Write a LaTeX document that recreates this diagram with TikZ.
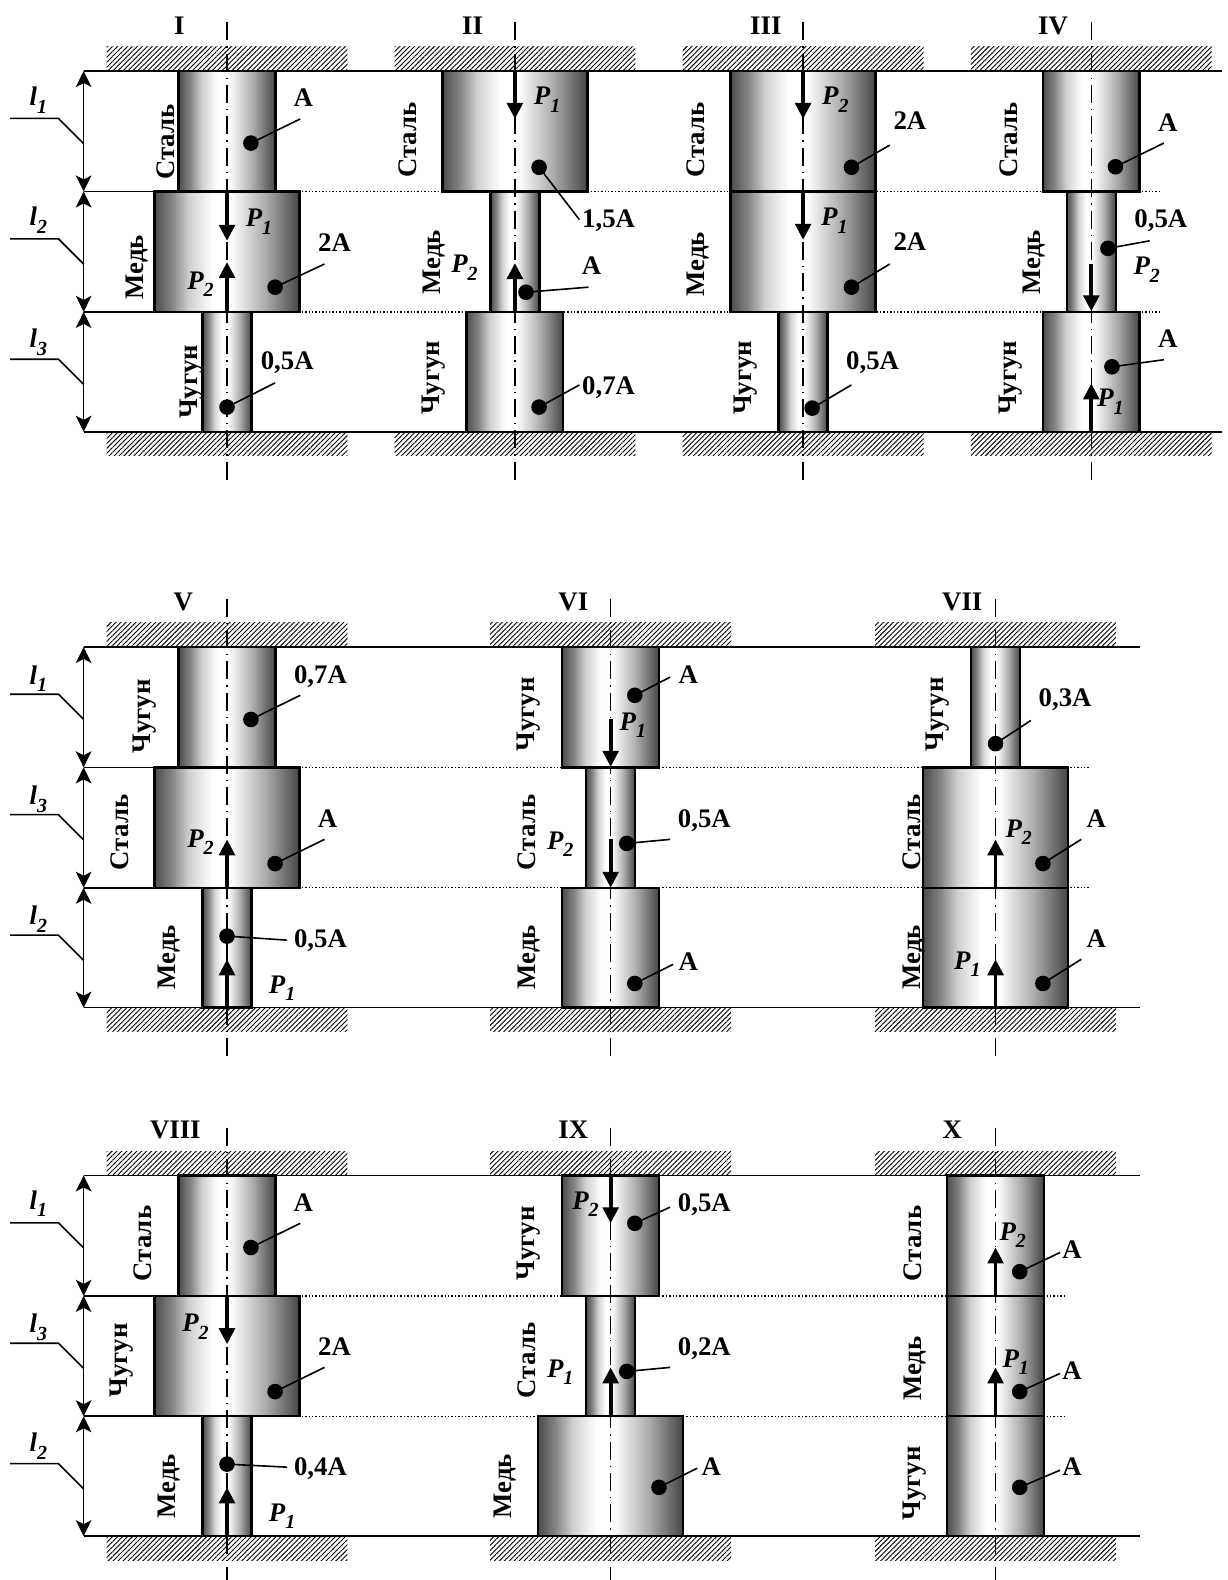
\documentclass[tikz,border=0pt]{standalone}
\usepackage{fontspec}
\setmainfont{Liberation Serif}
\usetikzlibrary{arrows.meta,patterns.meta}
\definecolor{edgeL}{gray}{0.30}
\definecolor{edgeR}{gray}{0.27}
\definecolor{stopA}{gray}{0.52}
\definecolor{stopB}{gray}{0.82}
\definecolor{stopC}{gray}{0.68}
\pgfdeclarehorizontalshading{rodshade}{100bp}{color(0bp)=(edgeL); color(25bp)=(edgeL); color(31bp)=(stopA); color(37bp)=(stopB); color(45bp)=(white); color(51bp)=(white); color(63bp)=(stopC); color(75bp)=(edgeR); color(100bp)=(edgeR)}
\newcounter{lbl}
\newcommand{\PF}[1]{\raisebox{1pt}{\bfseries\itshape P\raisebox{-0.28em}{\fontsize{10}{10}\selectfont #1}}}
\newcommand{\LL}[1]{\raisebox{1pt}{\bfseries\itshape l\raisebox{-0.28em}{\fontsize{10}{10}\selectfont #1}}}
% text label
\newcommand{\lab}[3]{\stepcounter{lbl}\node[txt] (t\thelbl) at (#1,#2) {#3};}
\newcommand{\mat}[3]{\stepcounter{lbl}\node[txt,rotate=90,yshift=-0.4pt] (t\thelbl) at (#1,#2) {#3};}
% rod: axis x, top y, half widths
\newcommand{\rod}[5]{%
 \shadedraw[rodbox] ({#1-#3},#2) rectangle ({#1+#3},{#2+119.5});
 \shadedraw[rodbox] ({#1-#4},{#2+119.5}) rectangle ({#1+#4},{#2+239});
 \shadedraw[rodbox] ({#1-#5},{#2+239}) rectangle ({#1+#5},{#2+358});
}
\newcommand{\hatchpair}[2]{%
 \path[hatchbox] ({#1-119.5},{#2-24}) rectangle ({#1+119.5},#2);
 \path[hatchbox] ({#1-119.5},{#2+358}) rectangle ({#1+119.5},{#2+382});
}
\newcommand{\axisline}[3]{\draw[axisst] (#1,#2) -- (#1,#3);}
\newcommand{\force}[3]{\draw[forcest] (#1,#2) -- (#1,#3);}
% dot with leader
\newcommand{\lead}[4]{\stepcounter{lbl}%
 \node[dotst] (d\thelbl) at (#1,#2) {};
 \coordinate (e\thelbl) at (#3,#4);
 \draw[leadst] (d\thelbl.center) -- (e\thelbl);}
% row frame
\newcommand{\frameRow}[3]{%
 \draw[dotst2] (225.3,{#1+119.5}) -- (#3,{#1+119.5});
 \draw[dotst2] (225.3,{#1+239}) -- (#3,{#1+239});
 \draw[thinst] (83,{#1+119.5}) -- (225.3,{#1+119.5});
 \draw[thinst] (83,{#1+239}) -- (225.3,{#1+239});
 \draw[thinst] (83,#1) -- (#2,#1);
 \draw[thinst] (83,{#1+358}) -- (#2,{#1+358});
 \draw[dimst] (83,#1) -- (83,{#1+119.5});
 \draw[dimst] (83,{#1+119.5}) -- (83,{#1+239});
 \draw[dimst] (83,{#1+239}) -- (83,{#1+358});
 \draw[thinst] (10,{#1+47}) -- (58,{#1+47}) -- (83,{#1+72});
 \draw[thinst] (10,{#1+166.5}) -- (58,{#1+166.5}) -- (83,{#1+191.5});
 \draw[thinst] (10,{#1+286}) -- (58,{#1+286}) -- (83,{#1+311});
}
\tikzset{
 txt/.style={inner sep=0pt,text height=8.9pt,text depth=0pt,font=\fontsize{13.4}{15}\selectfont\bfseries},
 rodbox/.style={shading=rodshade,draw=black,line width=1.2pt},
 hatchbox/.style={pattern={Lines[angle=45,distance=1.75pt,line width=0.45pt]},pattern color=black},
 axisst/.style={line width=0.7pt,dash pattern=on 9pt off 3pt on 0.7pt off 3pt},
 forcest/.style={line width=1.9pt,-{Stealth[length=8pt,width=7.8pt,inset=0pt]}},
 dotst/.style={circle,fill=black,inner sep=0pt,minimum size=7.8pt},
 leadst/.style={line width=0.8pt},
 dotst2/.style={line width=0.65pt,dash pattern=on 0.7pt off 1pt},
 thinst/.style={line width=0.8pt},
 dimst/.style={line width=0.8pt,{Stealth[length=8pt,width=7.8pt,inset=2pt]}-{Stealth[length=8pt,width=7.8pt,inset=2pt]}},
}
\begin{document}
\begin{tikzpicture}[x=0.5037pt,y=-0.5037pt]
\useasboundingbox (0,0) rectangle (1218,1568);
\fill[white] (0,0) rectangle (1218,1568);
% ===== frames
\frameRow{70.5}{1213}{1153}
\frameRow{642}{1131}{1081}
\frameRow{1166.5}{1131}{1057}
% ===== hatches
\hatchpair{225.3}{70.5}\hatchpair{511}{70.5}\hatchpair{797}{70.5}\hatchpair{1083}{70.5}
\hatchpair{225.3}{642}\hatchpair{606}{642}\hatchpair{988}{642}
\hatchpair{225.3}{1166.5}\hatchpair{606}{1166.5}\hatchpair{988}{1166.5}
% ===== rods
\rod{225.3}{70.5}{48}{72}{24.3}
\rod{511}{70.5}{72}{24.3}{48}
\rod{797}{70.5}{72}{72}{24.3}
\rod{1083}{70.5}{48}{24.3}{48}
\rod{225.3}{642}{48}{72}{24.3}
\rod{606}{642}{48}{24.3}{48}
\rod{988}{642}{24.3}{72}{72}
\rod{225.3}{1166.5}{48}{72}{24.3}
\rod{606}{1166.5}{48}{24.3}{72}
\rod{988}{1166.5}{48}{48}{48}
% ===== axes
\axisline{225.3}{22}{478}\axisline{511}{22}{478}\axisline{797}{22}{478}\axisline{1083}{22}{478}
\axisline{225.3}{594}{1050}\axisline{606}{594}{1050}\axisline{988}{594}{1050}
\axisline{225.3}{1119}{1568}\axisline{606}{1119}{1568}\axisline{988}{1119}{1568}
% ===== left l labels
\lab{38}{98}{\LL{1}}\lab{38}{217}{\LL{2}}\lab{38}{338}{\LL{3}}
\lab{38}{672}{\LL{1}}\lab{38}{792}{\LL{3}}\lab{38}{911}{\LL{2}}
\lab{38}{1193}{\LL{1}}\lab{38}{1316}{\LL{3}}\lab{38}{1434}{\LL{2}}
% ===== I
\lab{178}{25}{I}
\mat{164}{141}{Сталь}\mat{133}{265}{Медь}\mat{186}{379}{Чугун}
\lead{249}{142}{298}{118}\lab{301}{97}{A}
\lead{273}{285}{322}{262}\lab{332}{241}{2A}
\lead{225.3}{404}{273}{380}\lab{285}{358}{0,5A}
\force{225.3}{190}{239}\lab{257}{218}{\PF{1}}
\force{225.3}{309}{260}\lab{199}{280}{\PF{2}}
% ===== II
\lab{469}{25}{II}
\mat{404}{139}{Сталь}\mat{428}{260}{Медь}\mat{427}{375}{Чугун}
\force{511}{71}{118}\lab{543}{97}{\PF{1}}
\lead{535}{166}{575}{218}\lab{604}{217}{1,5A}
\force{511}{309}{261}\lab{461}{264}{\PF{2}}
\lead{522}{290}{584}{285}\lab{587}{264}{A}
\lead{535}{404}{575}{382}\lab{604}{383}{0,7A}
% ===== III
\lab{760}{25}{III}
\mat{690}{139}{Сталь}\mat{690}{262}{Медь}\mat{736}{375}{Чугун}
\force{797}{71}{118}\lab{829}{97}{\PF{2}}
\lead{845}{166}{883}{144}\lab{903}{120}{2A}
\force{797}{190}{238}\lab{828}{217}{\PF{1}}
\lead{845}{285}{883}{262}\lab{903}{240}{2A}
\lead{806}{405}{845}{382}\lab{866}{358}{0,5A}
% ===== IV
\lab{1045}{25}{IV}
\mat{1000}{139}{Сталь}\mat{1023}{260}{Медь}\mat{999}{375}{Чугун}
\lead{1107}{165.5}{1155}{142}\lab{1159}{122}{A}
\lead{1099.5}{246.5}{1141}{239}\lab{1152}{217}{0,5A}
\force{1083}{261.5}{309}\lab{1138}{266}{\PF{2}}
\lead{1103.5}{364}{1155}{357}\lab{1159}{336}{A}
\force{1083}{428}{380.5}\lab{1102}{397}{\PF{1}}
% ===== V
\lab{182}{597}{V}
\mat{140}{711}{Чугун}\mat{118}{826}{Сталь}\mat{165}{950}{Медь}
\lead{249}{714}{298}{690}\lab{318}{669}{0,7A}
\lead{273}{857}{322}{833}\lab{325}{812}{A}
\lead{225.3}{929}{285}{933}\lab{318}{931}{0,5A}
\force{225.3}{881}{833}\lab{199}{834}{\PF{2}}
\force{225.3}{1000}{952}\lab{280}{979}{\PF{1}}
% ===== VI
\lab{569}{597}{VI}
\mat{521}{709}{Чугун}\mat{522}{826}{Сталь}\mat{522}{950}{Медь}
\lead{630}{690}{665}{672}\lab{683}{669}{A}
\force{606}{714}{761}\lab{628}{718}{\PF{1}}
\lead{622}{837}{665}{833}\lab{699}{812}{0,5A}
\force{606}{833}{881}\lab{556}{836}{\PF{2}}
\lead{630}{976}{668}{957}\lab{683}{954}{A}
% ===== VII
\lab{955}{597}{VII}
\mat{927}{709}{Чугун}\mat{904}{826}{Сталь}\mat{904}{950}{Медь}
\lead{988}{738}{1023}{715}\lab{1057}{692}{0,3A}
\lead{1035}{857}{1073}{833}\lab{1088}{812}{A}
\force{988}{881}{833}\lab{1011}{824}{\PF{2}}
\lead{1035}{976}{1073}{952}\lab{1088}{931}{A}
\force{988}{1000}{952}\lab{960}{955}{\PF{1}}
% ===== VIII
\lab{174}{1121}{VIII}
\mat{141}{1234}{Сталь}\mat{117}{1350}{Чугун}\mat{165}{1475}{Медь}
\lead{249}{1238}{298}{1214}\lab{301}{1193}{A}
\lead{273}{1381}{322}{1357}\lab{332}{1336}{2A}
\lead{225.3}{1453}{285}{1456}\lab{318}{1455}{0,4A}
\force{225.3}{1286}{1334}\lab{194}{1315}{\PF{2}}
\force{225.3}{1524}{1476}\lab{280}{1503}{\PF{1}}
% ===== IX
\lab{569}{1121}{IX}
\mat{521}{1234}{Чугун}\mat{522}{1350}{Сталь}\mat{498}{1475}{Медь}
\force{606}{1167}{1214}\lab{581}{1193}{\PF{2}}
\lead{630}{1214}{665}{1198}\lab{699}{1193}{0,5A}
\lead{622}{1361}{665}{1357}\lab{699}{1336}{0,2A}
\force{606}{1405}{1357}\lab{556}{1360}{\PF{1}}
\lead{654}{1476}{692}{1457}\lab{706}{1455}{A}
% ===== X
\lab{945}{1121}{X}
\mat{905}{1234}{Сталь}\mat{905}{1358}{Медь}\mat{904}{1472}{Чугун}
\force{988}{1286}{1238}\lab{1005}{1224}{\PF{2}}
\lead{1012}{1262}{1052}{1243}\lab{1064}{1240}{A}
\force{988}{1405}{1357}\lab{1008}{1350}{\PF{1}}
\lead{1012}{1381}{1052}{1363}\lab{1064}{1360}{A}
\lead{1012}{1476}{1052}{1459}\lab{1064}{1455}{A}
\end{tikzpicture}
\end{document}
